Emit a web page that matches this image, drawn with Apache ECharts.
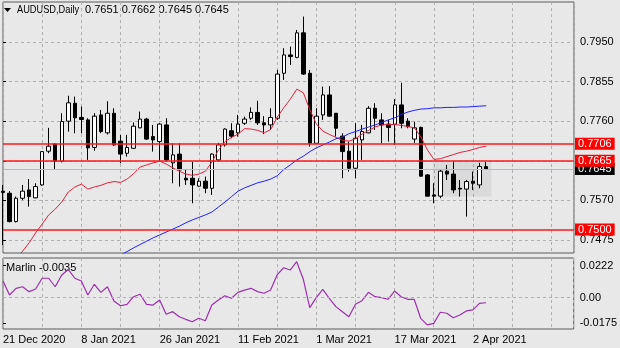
<!DOCTYPE html>
<html><head><meta charset="utf-8">
<script src="https://cdn.jsdelivr.net/npm/echarts@6/dist/echarts.min.js"></script>
<style>html,body{margin:0;padding:0;background:#e8e8e8}#c{width:620px;height:348px}</style>
</head><body><div id="c"></div><script>
// ---- data ----
const dates = ['21 Dec 2020','22 Dec 2020','23 Dec 2020','24 Dec 2020','28 Dec 2020','29 Dec 2020','30 Dec 2020','31 Dec 2020',
'4 Jan 2021','5 Jan 2021','6 Jan 2021','7 Jan 2021','8 Jan 2021','11 Jan 2021','12 Jan 2021','13 Jan 2021','14 Jan 2021','15 Jan 2021',
'18 Jan 2021','19 Jan 2021','20 Jan 2021','21 Jan 2021','22 Jan 2021','25 Jan 2021','26 Jan 2021','27 Jan 2021','28 Jan 2021','29 Jan 2021',
'1 Feb 2021','2 Feb 2021','3 Feb 2021','4 Feb 2021','5 Feb 2021','8 Feb 2021','9 Feb 2021','10 Feb 2021','11 Feb 2021','12 Feb 2021',
'15 Feb 2021','16 Feb 2021','17 Feb 2021','18 Feb 2021','19 Feb 2021','22 Feb 2021','23 Feb 2021','24 Feb 2021','25 Feb 2021','26 Feb 2021',
'1 Mar 2021','2 Mar 2021','3 Mar 2021','4 Mar 2021','5 Mar 2021','8 Mar 2021','9 Mar 2021','10 Mar 2021','11 Mar 2021','12 Mar 2021',
'15 Mar 2021','16 Mar 2021','17 Mar 2021','18 Mar 2021','19 Mar 2021','22 Mar 2021','23 Mar 2021','24 Mar 2021','25 Mar 2021','26 Mar 2021',
'29 Mar 2021','30 Mar 2021','31 Mar 2021','1 Apr 2021','2 Apr 2021','5 Apr 2021','6 Apr 2021'];

const open  = [0.7592,0.7587,0.7519,0.7575,0.7595,0.7576,0.7607,0.7688,0.7705,0.7664,0.7760,0.7803,0.7769,0.7763,0.7697,0.7775,0.7732,0.7779,0.7712,0.7683,
0.7695,0.7744,0.7765,0.7723,0.7711,0.7751,0.7660,0.7681,0.7623,0.7623,0.7604,0.7616,0.7599,0.7667,0.7703,0.7737,0.7732,0.7755,0.7767,0.7781,
0.7756,0.7751,0.7767,0.7875,0.7919,0.7913,0.7972,0.7875,0.7707,0.7775,0.7823,0.7779,0.7724,0.7688,0.7647,0.7715,0.7732,0.7791,0.7763,0.7753,
0.7753,0.7799,0.7760,0.7717,0.7745,0.7631,0.7583,0.7580,0.7640,0.7633,0.7599,0.7597,0.7616,0.7607,0.7651];
const high  = [0.7607,0.7592,0.7579,0.7607,0.7621,0.7611,0.7688,0.7744,0.7707,0.7779,0.7821,0.7819,0.7795,0.7767,0.7779,0.7787,0.7808,0.7791,0.7727,0.7727,
0.7757,0.7783,0.7768,0.7751,0.7755,0.7767,0.7707,0.7707,0.7643,0.7663,0.7623,0.7627,0.7683,0.7708,0.7743,0.7755,0.7775,0.7771,0.7793,0.7809,
0.7772,0.7791,0.7883,0.7935,0.7939,0.7979,0.8011,0.7883,0.7791,0.7843,0.7844,0.7779,0.7731,0.7711,0.7755,0.7751,0.7796,0.7803,0.7779,0.7763,
0.7813,0.7852,0.7767,0.7759,0.7747,0.7633,0.7611,0.7645,0.7655,0.7663,0.7619,0.7619,0.7639,0.7660,0.7662];
const low   = [0.7463,0.7517,0.7517,0.7571,0.7555,0.7575,0.7605,0.7683,0.7643,0.7661,0.7735,0.7731,0.7731,0.7667,0.7689,0.7731,0.7728,0.7701,0.7659,0.7675,
0.7693,0.7743,0.7715,0.7687,0.7664,0.7663,0.7611,0.7603,0.7607,0.7563,0.7603,0.7587,0.7583,0.7663,0.7699,0.7719,0.7723,0.7751,0.7763,0.7751,
0.7729,0.7739,0.7763,0.7859,0.7895,0.7911,0.7871,0.7699,0.7707,0.7763,0.7771,0.7723,0.7623,0.7639,0.7623,0.7667,0.7731,0.7739,0.7707,0.7711,
0.7703,0.7743,0.7743,0.7708,0.7627,0.7579,0.7563,0.7575,0.7619,0.7587,0.7579,0.7531,0.7595,0.7599,0.7645];
const close = [0.7589,0.7519,0.7575,0.7592,0.7579,0.7603,0.7687,0.7700,0.7664,0.7759,0.7804,0.7768,0.7764,0.7696,0.7772,0.7735,0.7779,0.7703,0.7681,0.7697,
0.7748,0.7765,0.7717,0.7715,0.7753,0.7667,0.7679,0.7643,0.7619,0.7607,0.7616,0.7599,0.7681,0.7703,0.7741,0.7724,0.7753,0.7765,0.7781,0.7756,
0.7751,0.7769,0.7873,0.7919,0.7915,0.7972,0.7873,0.7707,0.7772,0.7823,0.7772,0.7743,0.7687,0.7647,0.7719,0.7735,0.7791,0.7767,0.7751,0.7745,
0.7799,0.7755,0.7747,0.7744,0.7628,0.7580,0.7580,0.7640,0.7633,0.7595,0.7597,0.7615,0.7611,0.7651,0.7645];

const maFast = [0.7391,0.7410,0.7429,0.7448,0.7468,0.7492,0.7513,0.7535,0.7549,0.7566,0.7590,0.7602,0.7609,0.7597,0.7602,0.7606,0.7612,0.7615,0.7613,0.7621,
0.7634,0.7650,0.7655,0.7660,0.7664,0.7657,0.7648,0.7640,0.7633,0.7630,0.7633,0.7640,0.7662,0.7691,0.7711,0.7721,0.7729,0.7742,0.7741,0.7738,
0.7732,0.7740,0.7770,0.7792,0.7813,0.7837,0.7828,0.7787,0.7753,0.7736,0.7728,0.7721,0.7714,0.7712,0.7718,0.7729,0.7738,0.7746,0.7751,0.7752,
0.7752,0.7750,0.7747,0.7744,0.7722,0.7691,0.7668,0.7670,0.7675,0.7680,0.7685,0.7688,0.7692,0.7697,0.7700];
const maSlow = [null,null,null,null,null,null,null,null,null,null,null,null,null,null,0.7405,0.7414,0.7422,0.7430,0.7439,0.7447,
0.7456,0.7464,0.7472,0.7480,0.7487,0.7494,0.7501,0.7508,0.7516,0.7523,0.7529,0.7535,0.7542,0.7554,0.7566,0.7579,0.7592,0.7600,0.7606,0.7612,
0.7616,0.7621,0.7629,0.7644,0.7655,0.7667,0.7676,0.7687,0.7696,0.7703,0.7710,0.7718,0.7722,0.7730,0.7735,0.7741,0.7746,0.7751,0.7757,0.7763,
0.7768,0.7776,0.7782,0.7786,0.7789,0.7790,0.7792,0.7792,0.7793,0.7793,0.7794,0.7794,0.7795,0.7796,0.7797];

const marlin = [0.0116,0.0019,0.0065,0.0076,0.0042,0.0060,0.0135,0.0135,0.0076,0.0158,0.0196,0.0135,0.0116,0.0019,0.0093,0.0037,0.0076,-0.0023,-0.0056,-0.0046,
0.0007,0.0024,-0.0046,-0.0051,-0.0016,-0.0115,-0.0097,-0.0132,-0.0150,-0.0167,-0.0143,-0.0160,-0.0051,-0.0016,0.0014,-0.0004,0.0037,0.0053,0.0065,0.0042,
0.0031,0.0053,0.0158,0.0208,0.0192,0.0250,0.0130,-0.0069,0.0000,0.0058,-0.0004,-0.0062,-0.0097,-0.0132,-0.0046,-0.0021,0.0037,0.0007,0.0000,-0.0011,
0.0046,0.0007,-0.0011,-0.0011,-0.0143,-0.0189,-0.0178,-0.0101,-0.0108,-0.0139,-0.0120,-0.0092,-0.0085,-0.0039,-0.0035];

const priceTicks = [0.7475, 0.7570, 0.7665, 0.7760, 0.7855, 0.7950];
const marlinTicks = [-0.0175, 0, 0.0222];
const levels = [0.7706, 0.7665, 0.7500];
const bid = 0.7645;
const symbolName = 'AUDUSD,Daily';
const indicatorName = 'Marlin';
const boxRange = [[65.8, 0.7667], [74.8, 0.7579]];

// ---- chart ----
const FONT = '"Liberation Sans", Arial, sans-serif';
const XMAX = 571 / 6.53;
const last = close.length - 1;
const candleData = dates.map((d, i) => [i, open[i], close[i], low[i], high[i]]);
const fastData = maFast.map((v, i) => [i, v]);
const slowData = maSlow.map((v, i) => [i, v]).filter(p => p[1] != null);
const marlinData = marlin.map((v, i) => [i, v]);
const ohlcText = [open[last], high[last], low[last], close[last]].map(v => v.toFixed(4)).join(' ');

const dash = { color: '#b0b0b0', type: [3, 3], width: 1 };
function xAx(gi, withLabels) {
  return {
    type: 'value', gridIndex: gi, min: 0, max: XMAX, interval: 6,
    axisLine: { show: false }, axisTick: { show: false },
    axisLabel: withLabels ? {
      show: true, align: 'left', margin: 5, fontSize: 11, fontFamily: FONT, color: '#000',
      showMinLabel: true, showMaxLabel: false,
      formatter: v => (Number.isInteger(v) && v % 12 === 0 && dates[v]) ? dates[v] : ''
    } : { show: false },
    splitLine: { show: true, lineStyle: dash }
  };
}

const chart = echarts.init(document.getElementById('c'), null, { renderer: 'canvas' });
chart.setOption({
  animation: false,
  backgroundColor: '#e8e8e8',
  grid: [
    { left: 3, top: 2, width: 571, height: 251, show: true, borderColor: '#5a5a5a', borderWidth: 1, backgroundColor: 'transparent' },
    { left: 3, top: 258, width: 571, height: 71, show: true, borderColor: '#5a5a5a', borderWidth: 1, backgroundColor: 'transparent' }
  ],
  xAxis: [xAx(0, false), xAx(1, true)],
  yAxis: [
    { type: 'value', gridIndex: 0, position: 'right', min: 0.74436, max: 0.8046, scale: true,
      axisLine: { show: false },
      axisTick: { show: true, length: 3, customValues: priceTicks, lineStyle: { color: '#000' } },
      axisLabel: { show: true, margin: 6, fontSize: 11, fontFamily: FONT, color: '#000', customValues: priceTicks, formatter: v => v.toFixed(4) },
      splitLine: { show: true, lineStyle: dash } },
    { type: 'value', gridIndex: 1, position: 'right', min: -0.02172, max: 0.02755,
      axisLine: { show: false },
      axisTick: { show: true, length: 3, customValues: marlinTicks, lineStyle: { color: '#000' } },
      axisLabel: { show: true, margin: 6, fontSize: 11, fontFamily: FONT, color: '#000', customValues: marlinTicks, formatter: v => v === 0 ? '0.00' : v.toFixed(4) },
      splitLine: { show: false } }
  ],
  graphic: [
    { type: 'polygon', shape: { points: [[4, 8], [11, 8], [7.5, 12]] }, style: { fill: '#000' } },
    { type: 'text', x: 17, y: 10, scaleX: 0.84, style: { text: symbolName, font: '11px ' + FONT, fill: '#000', verticalAlign: 'middle' } },
    { type: 'text', x: 85, y: 10, style: { text: ohlcText, font: '11px ' + FONT, fill: '#000', verticalAlign: 'middle' } },
    { type: 'text', x: 6, y: 268, style: { text: indicatorName + ' ' + marlin[last].toFixed(4), font: '11px ' + FONT, fill: '#000', verticalAlign: 'middle' } }
  ],
  series: [
    { type: 'line', xAxisIndex: 0, yAxisIndex: 0, data: [], z: 1, silent: true,
      markArea: { silent: true, itemStyle: { color: 'rgba(0,0,0,0.06)' },
        data: [[{ coord: boxRange[0] }, { coord: boxRange[1] }]] } },
    { type: 'line', xAxisIndex: 0, yAxisIndex: 0, data: [], z: 2, silent: true,
      markLine: { symbol: ['none', 'none'], silent: true, precision: 4,
        lineStyle: { color: '#b8b8b8', width: 1, type: 'solid' },
        label: { show: true, position: 'end', distance: 1, formatter: p => Number(p.value).toFixed(4),
          backgroundColor: '#000', color: '#fff', padding: [1, 3, 0, 3], fontSize: 11, fontFamily: FONT },
        data: [{ yAxis: bid }] } },
    { type: 'candlestick', xAxisIndex: 0, yAxisIndex: 0, z: 3, barWidth: 4,
      encode: { x: 0, y: [1, 2, 3, 4] }, data: candleData,
      itemStyle: { color: '#ffffff', color0: '#000000', borderColor: '#000000', borderColor0: '#000000', borderColorDoji: '#000000', borderWidth: 1 } },
    { type: 'line', xAxisIndex: 0, yAxisIndex: 0, data: fastData, z: 4, symbol: 'none', showSymbol: false,
      lineStyle: { color: '#e0203c', width: 1 } },
    { type: 'line', xAxisIndex: 0, yAxisIndex: 0, data: slowData, z: 4, symbol: 'none', showSymbol: false,
      lineStyle: { color: '#2020ff', width: 1 } },
    { type: 'line', xAxisIndex: 0, yAxisIndex: 0, data: [], z: 6, silent: true,
      markLine: { symbol: ['none', 'none'], silent: true, precision: 4,
        lineStyle: { color: '#ff1a1a', width: 1.5, type: 'solid' },
        label: { show: true, position: 'end', distance: 1, formatter: p => Number(p.value).toFixed(4),
          backgroundColor: '#ff0000', color: '#fff', padding: [1, 3, 0, 3], fontSize: 11, fontFamily: FONT },
        data: levels.map(v => ({ yAxis: v })) } },
    { type: 'line', xAxisIndex: 1, yAxisIndex: 1, data: marlinData, z: 4, symbol: 'none', showSymbol: false,
      lineStyle: { color: '#9b2fae', width: 1.2 },
      markLine: { symbol: ['none', 'none'], silent: true, precision: 4, label: { show: false },
        lineStyle: { color: '#b0b0b0', type: [3, 3], width: 1 }, data: [{ yAxis: 0 }] } }
  ]
});
</script></body></html>
